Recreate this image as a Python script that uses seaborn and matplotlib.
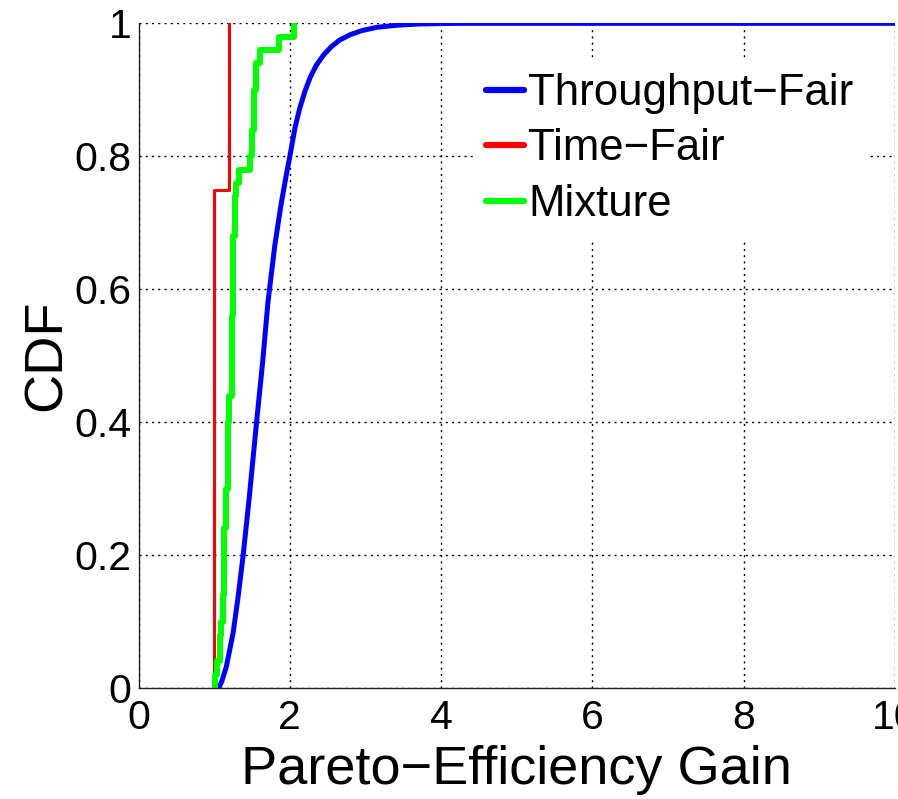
import numpy as np
import pandas as pd
import matplotlib
matplotlib.use("Agg")
import matplotlib.pyplot as plt
import seaborn as sns

# Throughput-Fair: smooth CDF
tf_gain = [1.06, 1.10, 1.16, 1.25, 1.31, 1.38, 1.46, 1.56, 1.64, 1.71, 1.80, 1.88,
           1.95, 2.00, 2.07, 2.13, 2.20, 2.27, 2.35, 2.45, 2.55, 2.66, 2.80, 2.95,
           3.15, 3.40, 3.70, 4.20, 10.0]
tf_cdf = [0.0, 0.010, 0.032, 0.083, 0.132, 0.197, 0.283, 0.400, 0.490, 0.580, 0.665, 0.725,
          0.770, 0.800, 0.844, 0.872, 0.898, 0.919, 0.937, 0.953, 0.965, 0.975, 0.983, 0.989,
          0.994, 0.997, 0.999, 1.0, 1.0]

# Time-Fair: per-sample gains (empirical CDF)
time_fair = [1.0, 1.0, 1.0, 1.2]

# Mixture: per-sample gains (empirical CDF)
mixture = [1.01, 1.04, 1.07, 1.07, 1.09, 1.11, 1.11, 1.13, 1.13, 1.13,
           1.13, 1.13, 1.15, 1.15, 1.15, 1.18, 1.18, 1.18, 1.18, 1.18,
           1.20, 1.20, 1.23, 1.23, 1.23, 1.23, 1.23, 1.23, 1.25, 1.25,
           1.25, 1.25, 1.25, 1.25, 1.27, 1.27, 1.27, 1.29, 1.33, 1.47,
           1.50, 1.50, 1.52, 1.52, 1.52, 1.55, 1.55, 1.60, 1.86, 2.05]

series_names = ["Throughput\u2212Fair", "Time\u2212Fair", "Mixture"]
series_colors = ["#0000FF", "#FF0000", "#00FF00"]
series_widths = [3.6, 2.2, 4.3]

x_ticks = [0, 2, 4, 6, 8, 10]
y_ticks = [0, 0.2, 0.4, 0.6, 0.8, 1.0]
y_tick_labels = ["0", "0.2", "0.4", "0.6", "0.8", "1"]

sns.set_style("white")
plt.rcParams["font.family"] = ["Liberation Sans", "DejaVu Sans"]
plt.rcParams["text.color"] = "black"
plt.rcParams["axes.labelcolor"] = "black"

fig = plt.figure(figsize=(8.98, 7.99), dpi=100)
ax = fig.add_axes([0.1543, 0.1389, 0.8424, 0.8319])

sns.lineplot(x=tf_gain, y=tf_cdf, ax=ax, color=series_colors[0],
             lw=series_widths[0], label=series_names[0], sort=False, estimator=None)
sns.ecdfplot(x=time_fair, ax=ax, color=series_colors[1], lw=series_widths[1],
             label=series_names[1])
sns.ecdfplot(x=mixture, ax=ax, color=series_colors[2], lw=series_widths[2],
             label=series_names[2])

ax.set_xlim(0, 10)
ax.set_ylim(0, 1)
ax.set_xticks(x_ticks)
ax.set_xticklabels([str(t) for t in x_ticks])
ax.set_yticks(y_ticks)
ax.set_yticklabels(y_tick_labels)
ax.tick_params(axis="both", direction="in", length=7, width=1, labelsize=29.5,
               colors="black")
ax.tick_params(axis="x", pad=8)
ax.tick_params(axis="y", pad=5)

ax.grid(True, color="black", linestyle=(0, (1.5, 3)), linewidth=1.0)
for side in ["top", "right"]:
    ax.spines[side].set_visible(False)
for side in ["left", "bottom"]:
    ax.spines[side].set_color("#222222")
    ax.spines[side].set_linewidth(1.0)

ax.set_xlabel("Pareto\u2212Efficiency Gain", fontsize=39, labelpad=6)
ax.set_ylabel("CDF", fontsize=39, labelpad=2)

leg = ax.legend(loc="upper left", bbox_to_anchor=(0.527, 0.925),
                bbox_transform=fig.transFigure, fontsize=31.5, frameon=True,
                framealpha=1, edgecolor="white", fancybox=False,
                borderpad=0.3, borderaxespad=0, handlelength=0.85,
                handletextpad=0.1, labelspacing=0.33)
for line in leg.get_lines():
    line.set_linewidth(4.5)

fig.savefig("out.png", dpi=100)
